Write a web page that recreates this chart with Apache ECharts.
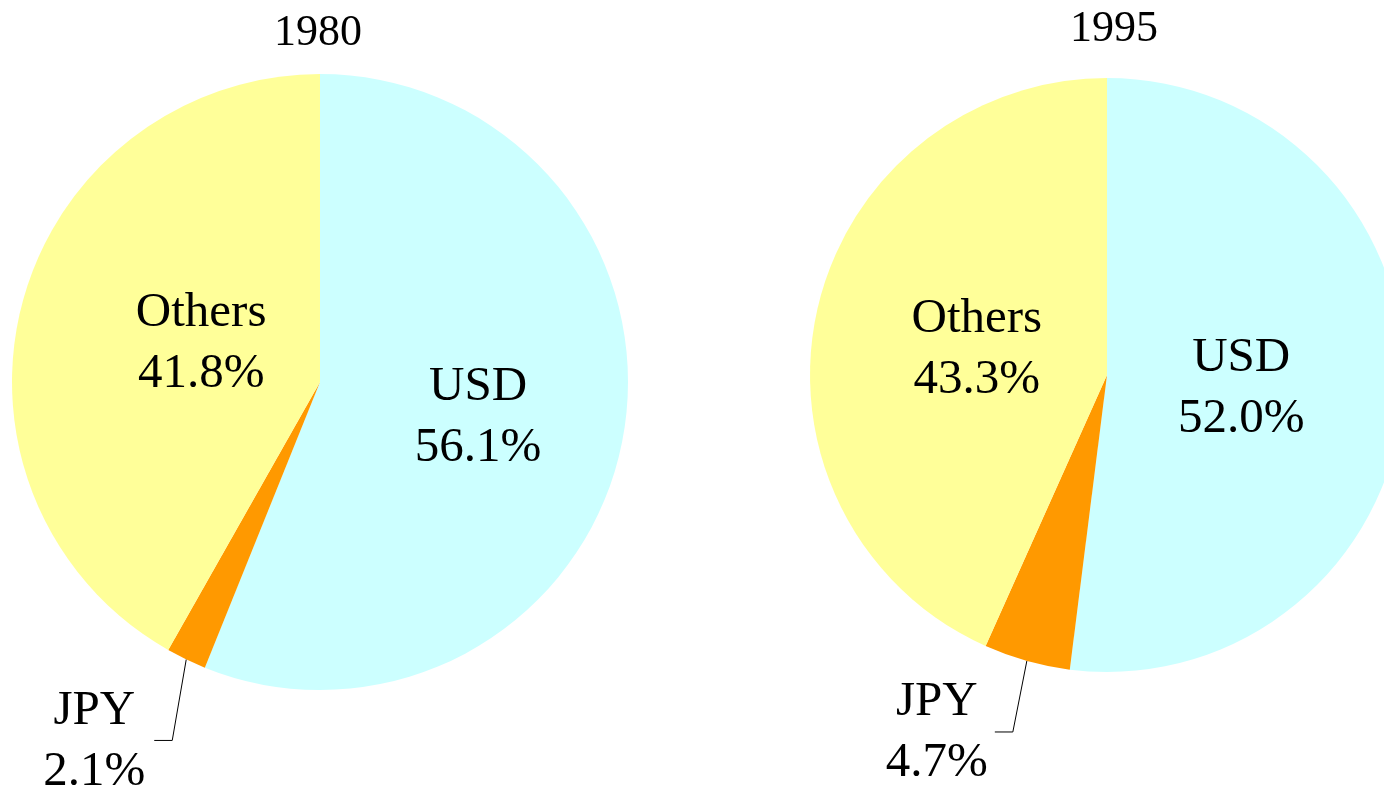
<!DOCTYPE html>
<html>
<head>
<meta charset="utf-8">
<script src="https://cdn.jsdelivr.net/npm/echarts@6/dist/echarts.min.js"></script>
<style>
  html, body { margin: 0; padding: 0; background: #fff; }
  #chart { width: 1384px; height: 793px; }
</style>
</head>
<body>
<div id="chart"></div>
<script>
var years = ['1980', '1995'];
var currencies = ['USD', 'JPY', 'Others'];
var share1980 = [56.1, 2.1, 41.8];
var share1995 = [52.0, 4.7, 43.3];
var colors = ['#ccffff', '#ff9900', '#ffff99'];

// label nudges (px) per pie, and leader line shape for the small slice
var nudges = [
    { USD: [4, 6], Others: [33, 2] },
    { USD: [-17, 4], Others: [18, 6] }
];
var leader = [
    { dx: -14, drop: 81, run: 18, gap: 60 },
    { dx: -14, drop: 71, run: 18, gap: 58 }
];

var chart = echarts.init(document.getElementById('chart'));
var font = '"Liberation Serif", "Times New Roman", serif';

function buildData(values) {
    var out = [];
    for (var i = 0; i < currencies.length; i++) {
        var item = { name: currencies[i], value: values[i] };
        if (currencies[i] === 'JPY') {
            item.label = { position: 'outside' };
            item.labelLine = { show: true };
        } else {
            item.label = { position: 'inside' };
            item.labelLine = { show: false };
        }
        out.push(item);
    }
    return out;
}

function makeLayout(idx) {
    return function (params) {
        var name = currencies[params.dataIndex];
        if (name === 'JPY' && params.labelLinePoints) {
            var L = leader[idx];
            var p0 = params.labelLinePoints[0];
            var p1 = [p0[0] + L.dx, p0[1] + L.drop];
            var p2 = [p1[0] - L.run, p1[1]];
            return {
                x: p2[0] - L.gap,
                y: p2[1] + 1,
                align: 'center',
                verticalAlign: 'middle',
                labelLinePoints: [p0, p1, p2]
            };
        }
        var n = nudges[idx][name] || [0, 0];
        return { dx: n[0], dy: n[1] };
    };
}

function pieSeries(values, center, radius, idx) {
    return {
        type: 'pie',
        center: center,
        radius: radius,
        startAngle: 90,
        clockwise: true,
        silent: true,
        avoidLabelOverlap: false,
        itemStyle: { borderWidth: 0 },
        label: {
            formatter: function (p) { return p.name + '\n' + p.value.toFixed(1) + '%'; },
            fontFamily: font,
            fontSize: 49,
            lineHeight: 61,
            color: '#000'
        },
        labelLine: {
            length: 78,
            length2: 18,
            smooth: false,
            lineStyle: { color: '#000', width: 1 }
        },
        labelLayout: makeLayout(idx),
        data: buildData(values)
    };
}

var titleStyle = { fontFamily: font, fontSize: 44, fontWeight: 'normal', color: '#000' };

var option = {
    animation: false,
    color: colors,
    title: [
        { text: years[0], left: 313, top: 6, textAlign: 'center', textStyle: titleStyle },
        { text: years[1], left: 1109, top: 2, textAlign: 'center', textStyle: titleStyle }
    ],
    series: [
        pieSeries(share1980, [320, 382], 308, 0),
        pieSeries(share1995, [1107, 375], 297, 1)
    ]
};

chart.setOption(option);
</script>
</body>
</html>
